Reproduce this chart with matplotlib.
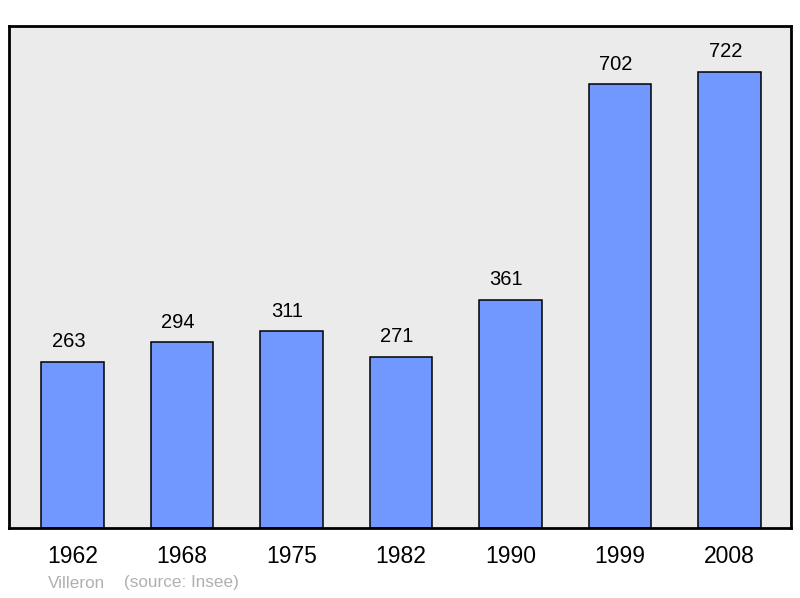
import matplotlib
matplotlib.use("Agg")
import matplotlib.pyplot as plt

plt.rcParams['font.family'] = ['Liberation Sans', 'DejaVu Sans']

# Population data
years = ['1962', '1968', '1975', '1982', '1990', '1999', '2008']
population = [263, 294, 311, 271, 361, 702, 722]
town = 'Villeron'
source = '(source: Insee)'

fig = plt.figure(figsize=(8, 5.98), dpi=100)
ax = fig.add_axes([9 / 800, 70 / 598, 782 / 800, 502 / 598])
ax.set_facecolor('#ebebeb')

x = list(range(len(years)))
ax.bar(x, population, width=0.57, color='#7098ff', edgecolor='black', linewidth=1.1, zorder=2)

for xi, val in zip(x, population):
    ax.annotate(str(val), (xi, val), xytext=(-3, 10.5), textcoords='offset points',
                ha='center', va='baseline', fontsize=14.5)

ax.set_xlim(-0.58, 6.56)
ax.set_ylim(0, 722 * 1.1)
ax.set_xticks(x)
ax.set_xticklabels(years, fontsize=16.5)
ax.tick_params(axis='x', length=0, pad=12)
ax.set_yticks([])

for spine in ax.spines.values():
    spine.set_linewidth(2)

fig.text(48 / 800, 1 - 583 / 598, town, color='#b0b0b0', fontsize=12.3, va='center')
fig.text(124 / 800, 1 - 583 / 598, source, color='#b0b0b0', fontsize=12.3, va='center')

fig.savefig('out.png', dpi=100)
